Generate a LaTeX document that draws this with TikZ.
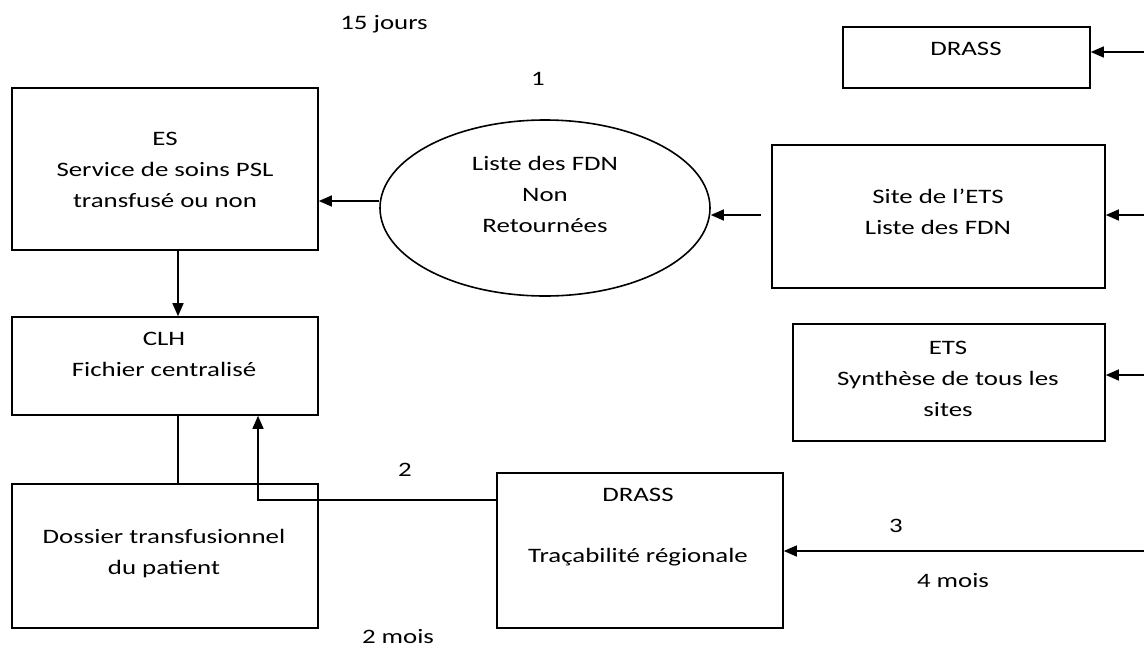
\documentclass[tikz,border=0pt]{standalone}
\usepackage{fontspec}
\setmainfont{Carlito}[FakeStretch=1.31]
\usetikzlibrary{arrows.meta,shapes.geometric}
\begin{document}
\begin{tikzpicture}[x=1pt,y=-1pt,
  box/.style={draw,line width=1.6pt,inner sep=0pt},
  txt/.style={font=\fontsize{20.5}{31}\selectfont,align=center,inner sep=0pt,anchor=base},
  arr/.style={line width=1.4pt,-{Triangle[length=13pt,width=11pt]}},
  ln/.style={line width=1.4pt}]
\useasboundingbox (0,0) rectangle (1144,646);
\fill[white] (0,0) rectangle (1144,646);
% boxes
\node[box,minimum width=247pt,minimum height=61pt] (drassT) at (966.5,57.5) {};
\node[box,minimum width=306pt,minimum height=162pt] (es) at (165,169) {};
\node[box,ellipse,minimum width=330pt,minimum height=176pt] (liste) at (545,208) {};
\node[box,minimum width=333pt,minimum height=143pt] (site) at (938.5,216.5) {};
\node[box,minimum width=306pt,minimum height=98pt] (clh) at (165,366) {};
\node[box,minimum width=312pt,minimum height=117pt] (ets) at (949,382.5) {};
\node[box,minimum width=306pt,minimum height=144pt] (doss) at (165,556) {};
\node[box,minimum width=286pt,minimum height=155pt] (drassM) at (640,550.5) {};
% texts (anchored at the baseline of the last line)
\node[txt] at (966,55) {DRASS};
\node[txt] at (165,207) {ES\\Service de soins PSL\\transfusé ou non};
\node[txt] at (545,232) {Liste des FDN\\Non\\Retournées};
\node[txt] at (938,234) {Site de l’ETS\\Liste des FDN};
\node[txt] at (164,376) {CLH\\Fichier centralisé};
\node[txt] at (948,416) {ETS\\Synthèse de tous les\\sites};
\node[txt] at (164,574) {Dossier transfusionnel\\du patient};
\node[txt] at (638,562) {DRASS\\[30pt]Traçabilité régionale};
\node[txt] (l15) at (384,29) {15 jours};
\node[txt] (l1) at (538,85) {1};
\node[txt] (l2) at (405,476) {2};
\node[txt] (l3) at (896,532) {3};
\node[txt] (l4) at (953,587) {4 mois};
\node[txt] (l2m) at (398,643) {2 mois};
% connectors
\coordinate (inT) at (1144,52);
\coordinate (inS) at (1144,215);
\coordinate (inE) at (1144,375);
\coordinate (inD) at (1144,551);
\draw[arr] (inT) -- (drassT.east |- inT);
\draw[arr] (inS) -- (site.east |- inS);
\draw[arr] (inE) -- (ets.east |- inE);
\draw[arr] (inD) -- (drassM.east |- inD);
\draw[arr] (liste.west |- 0,201) -- (es.east |- 0,201);
\draw[arr] ([xshift=-10pt]site.west |- 0,215) -- (liste.east |- 0,215);
\draw[arr] (es.south -| 178,0) -- (clh.north -| 178,0);
\draw[ln] (clh.south -| 178,0) -- (doss.north -| 178,0);
\draw[arr] (drassM.west |- 0,500) -| (clh.south -| 258,0);
\end{tikzpicture}
\end{document}
